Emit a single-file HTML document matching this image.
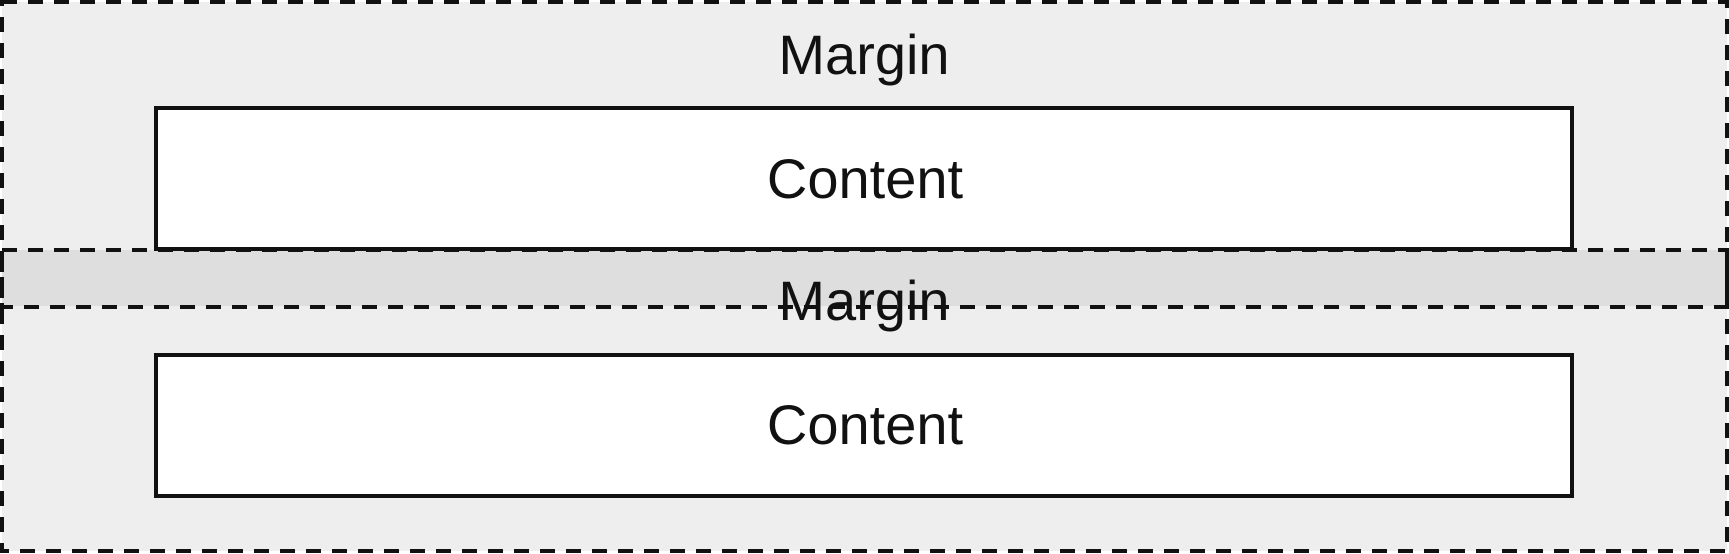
<!DOCTYPE html>
<html><head><style>html,body{margin:0;padding:0;background:#fff;}svg{display:block}</style></head>
<body>
<svg width="1729" height="554" xmlns="http://www.w3.org/2000/svg" font-family="Liberation Sans, Arial, sans-serif" font-size="56" fill="#111">
<rect x="2" y="2" width="1725" height="305" fill="#eeeeee"/>
<rect x="2" y="250" width="1725" height="301" fill="#eeeeee"/>
<rect x="2" y="250" width="1725" height="56" fill="#dedede"/>
<rect x="156" y="108" width="1416" height="141" fill="#fff" stroke="#111" stroke-width="4"/>
<rect x="156" y="355" width="1416" height="141" fill="#fff" stroke="#111" stroke-width="4"/>
<rect x="2" y="2" width="1725" height="305" fill="none" stroke="#111" stroke-width="4" stroke-dasharray="15,11"/>
<rect x="2" y="250" width="1725" height="301" fill="none" stroke="#111" stroke-width="4" stroke-dasharray="15,11"/>
<text x="864" y="74" text-anchor="middle">Margin</text>
<text x="865" y="198" text-anchor="middle">Content</text>
<text x="864" y="320" text-anchor="middle">Margin</text>
<text x="865" y="444" text-anchor="middle">Content</text>
</svg>
</body></html>
